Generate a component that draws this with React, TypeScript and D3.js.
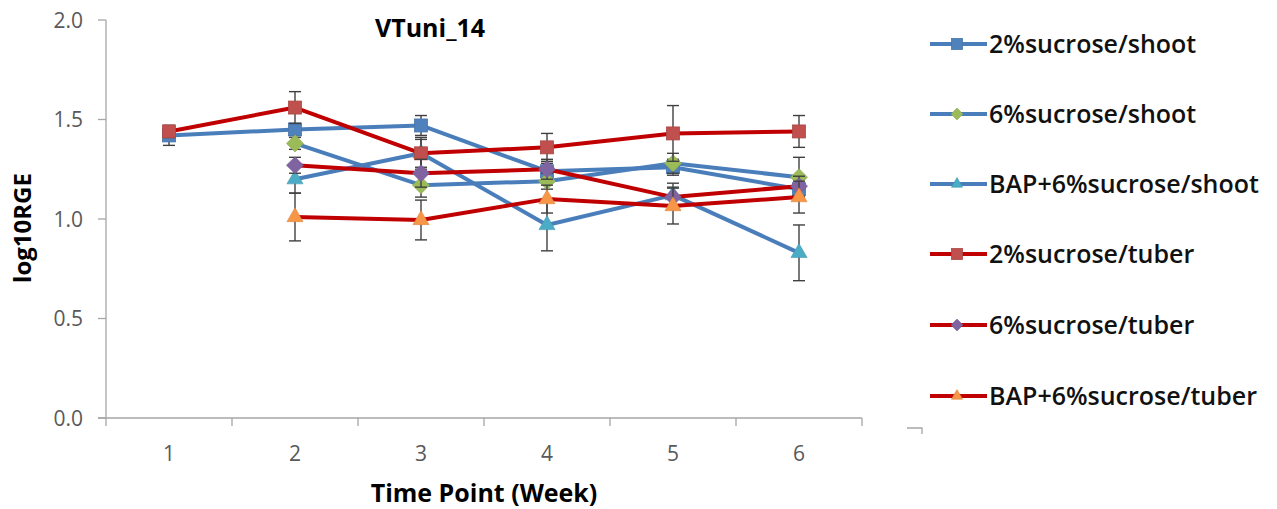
import React from "react";
import * as d3 from "d3";

const weeks = [1, 2, 3, 4, 5, 6];
const yTicks = [0, 0.5, 1.0, 1.5, 2.0];

const seriesNames = [
  "2%sucrose/shoot",
  "6%sucrose/shoot",
  "BAP+6%sucrose/shoot",
  "2%sucrose/tuber",
  "6%sucrose/tuber",
  "BAP+6%sucrose/tuber",
];

// null = no measurement at that week
const sucrose2Shoot = [1.42, 1.45, 1.47, 1.24, 1.26, 1.15];
const sucrose6Shoot = [null, 1.38, 1.17, 1.19, 1.28, 1.21];
const bapShoot = [null, 1.2, 1.33, 0.97, 1.12, 0.83];
const sucrose2Tuber = [1.44, 1.56, 1.33, 1.36, 1.43, 1.44];
const sucrose6Tuber = [null, 1.27, 1.23, 1.25, 1.11, 1.165];
const bapTuber = [null, 1.01, 0.995, 1.1, 1.065, 1.11];

const sucrose2ShootErr = [0.05, 0.03, 0.05, 0.04, 0.04, 0.05];
const sucrose6ShootErr = [null, 0.03, 0.06, 0.04, 0.05, 0.1];
const bapShootErr = [null, 0.07, 0.08, 0.13, 0.06, 0.14];
const sucrose2TuberErr = [0.03, 0.08, 0.07, 0.07, 0.14, 0.08];
const sucrose6TuberErr = [null, 0.04, 0.07, 0.05, 0.05, 0.05];
const bapTuberErr = [null, 0.12, 0.1, 0.07, 0.09, 0.08];

const values = [sucrose2Shoot, sucrose6Shoot, bapShoot, sucrose2Tuber, sucrose6Tuber, bapTuber];
const errors = [sucrose2ShootErr, sucrose6ShootErr, bapShootErr, sucrose2TuberErr, sucrose6TuberErr, bapTuberErr];

const lineColors = ["#4a7ebb", "#4a7ebb", "#4a7ebb", "#c00000", "#c00000", "#c00000"];
const markerColors = ["#4f81bd", "#9bbb59", "#4bacc6", "#c0504d", "#8064a2", "#f79646"];
const markerShapes = ["square", "diamond", "triangle", "square", "diamond", "triangle"];

const font = "'Open Sans', Lato, sans-serif";

function Marker({ shape, x, y, color, size }) {
  if (shape === "square") {
    return <rect x={x - size / 2} y={y - size / 2} width={size} height={size} fill={color} stroke={d3.color(color).darker(0.3)} strokeWidth={0.8} />;
  }
  const sym = shape === "diamond" ? d3.symbolDiamond2 : d3.symbolTriangle2;
  const path = d3.symbol(sym, size * size * 1.1)();
  return <path d={path} transform={`translate(${x},${y})`} fill={color} stroke={d3.color(color).darker(0.3)} strokeWidth={0.6} />;
}

export default function App() {
  const left = 106, right = 862, top = 20, bottom = 418;
  const x = d3.scaleBand().domain(weeks).range([left, right]);
  const y = d3.scaleLinear().domain([0, 2]).range([bottom, top]);
  const cx = (w) => x(w) + x.bandwidth() / 2;

  const line = d3
    .line()
    .defined((d) => d[1] != null)
    .x((d) => cx(d[0]))
    .y((d) => y(d[1]));

  const legendY = [44, 114, 184, 254, 325, 396];

  return (
    <svg width={1277} height={509} style={{ position: "absolute", left: 0, top: 0, background: "#fff" }}>
      {/* axes */}
      <line x1={left} x2={left} y1={top} y2={bottom + 8} stroke="#a6a6a6" strokeWidth={1.3} />
      <line x1={left - 8} x2={right} y1={bottom} y2={bottom} stroke="#a6a6a6" strokeWidth={1.3} />
      {yTicks.map((t) => (
        <g key={t}>
          <line x1={left - 8} x2={left} y1={y(t)} y2={y(t)} stroke="#a6a6a6" strokeWidth={1.3} />
          <text x={83} y={y(t)} dy="0.36em" textAnchor="end" fontFamily={font} fontSize={21} fill="#595959">
            {t.toFixed(1)}
          </text>
        </g>
      ))}
      {weeks.map((w) => (
        <g key={w}>
          <line x1={x(w) + x.bandwidth()} x2={x(w) + x.bandwidth()} y1={bottom} y2={bottom + 8} stroke="#a6a6a6" strokeWidth={1.3} />
          <text x={cx(w)} y={461} textAnchor="middle" fontFamily={font} fontSize={21} fill="#595959">
            {w}
          </text>
        </g>
      ))}
      <path d="M907,428 H922 V434" fill="none" stroke="#a6a6a6" strokeWidth={1.3} />

      {/* labels */}
      <text x={430} y={37} textAnchor="middle" fontFamily={font} fontWeight="bold" fontSize={25} fill="#000">
        VTuni_14
      </text>
      <text transform={`translate(31,228) rotate(-90)`} textAnchor="middle" fontFamily={font} fontWeight="bold" fontSize={24} fill="#000">
        log10RGE
      </text>
      <text x={484} y={502} textAnchor="middle" fontFamily={font} fontWeight="bold" fontSize={25} fill="#000">
        Time Point (Week)
      </text>

      {/* series */}
      {values.map((vals, i) => {
        const pts = weeks.map((w, j) => [w, vals[j]]);
        return (
          <g key={seriesNames[i]}>
            <path d={line(pts)} fill="none" stroke={lineColors[i]} strokeWidth={4} strokeLinejoin="round" />
            {pts.map(([w, v], j) =>
              v == null ? null : (
                <g key={j} stroke="#404040" strokeWidth={1.4}>
                  <line x1={cx(w)} x2={cx(w)} y1={y(v - errors[i][j])} y2={y(v + errors[i][j])} />
                  <line x1={cx(w) - 6} x2={cx(w) + 6} y1={y(v - errors[i][j])} y2={y(v - errors[i][j])} />
                  <line x1={cx(w) - 6} x2={cx(w) + 6} y1={y(v + errors[i][j])} y2={y(v + errors[i][j])} />
                </g>
              )
            )}
            {pts.map(([w, v], j) =>
              v == null ? null : <Marker key={"m" + j} shape={markerShapes[i]} x={cx(w)} y={y(v)} color={markerColors[i]} size={13} />
            )}
          </g>
        );
      })}

      {/* legend */}
      {seriesNames.map((name, i) => (
        <g key={name}>
          <line x1={930} x2={987} y1={legendY[i]} y2={legendY[i]} stroke={lineColors[i]} strokeWidth={4} />
          <Marker shape={markerShapes[i]} x={957} y={legendY[i]} color={markerColors[i]} size={markerShapes[i] === "square" ? 11 : 9} />
          <text x={989} y={legendY[i]} dy="0.36em" fontFamily={font} fontWeight={600} fontSize={25} fill="#111">
            {name}
          </text>
        </g>
      ))}
    </svg>
  );
}
